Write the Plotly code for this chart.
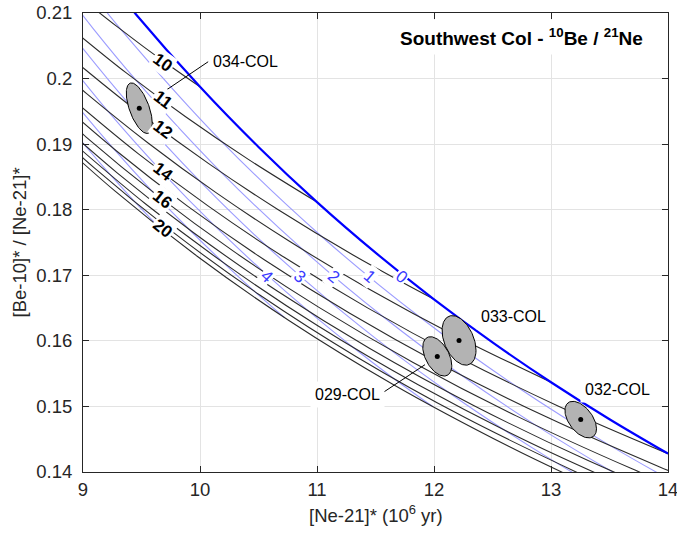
import numpy as np
import plotly.graph_objects as go

# ---------------- data ----------------
# thick blue line (zero-erosion / simple exposure curve)
blue0_x = [9.0, 9.45, 10.0, 10.5, 11.0, 11.5, 12.0, 12.5, 13.0, 13.5, 14.0]
blue0_y = [0.21986, 0.20986, 0.19875, 0.18957, 0.18116, 0.17345, 0.16634, 0.15977, 0.15369, 0.14805, 0.14280]

# black contours (exposure duration, Myr)
black_levels = [10, 11, 12, 13, 14, 15, 16, 17, 18, 19, 20]
black_x = [
    [10.0, 9.7542, 9.5163, 9.2861, 9.0635],
    [11.0, 10.4166, 9.8741, 9.3701, 8.8991],
    [12.0, 11.308, 10.6686, 10.0775, 9.5304, 9.0238, 8.7843],
    [13.0, 12.1901, 11.4474, 10.7645, 10.137, 9.5591, 9.026, 8.7758],
    [14.0, 13.0642, 12.2108, 11.4318, 10.7198, 10.0683, 9.4714, 8.9241],
    [14.4513, 13.9292, 12.9591, 12.0791, 11.2797, 10.5527, 9.8905, 9.2866, 8.7351],
    [14.2248, 13.6926, 12.7072, 11.8177, 11.0134, 10.2851, 9.6245, 9.0245, 8.4786],
    [14.4115, 13.3168, 12.3346, 11.4512, 10.6568, 9.9397, 9.2917, 8.7052],
    [13.9084, 12.8312, 11.8686, 11.0067, 10.2333, 9.5384, 8.9122],
    [13.3084, 12.2653, 11.336, 10.5075, 9.7661, 9.1016, 8.5043],
    [13.7668, 13.187, 12.642, 11.647, 10.763, 9.976, 9.2745, 8.6466],
]
black_y = [
    [0.19875, 0.20181, 0.20488, 0.20799, 0.21111],
    [0.18116, 0.18764, 0.19421, 0.20086, 0.20764],
    [0.16634, 0.17310, 0.17999, 0.18699, 0.19410, 0.20131, 0.20495],
    [0.15369, 0.16072, 0.16788, 0.17518, 0.18260, 0.19014, 0.19779, 0.20164],
    [0.14280, 0.15004, 0.15746, 0.16503, 0.17274, 0.18058, 0.18855, 0.19661],
    [0.13702, 0.14077, 0.14841, 0.15622, 0.16420, 0.17233, 0.18059, 0.18896, 0.19743],
    [0.13654, 0.14048, 0.14852, 0.15675, 0.16514, 0.17368, 0.18234, 0.19112, 0.19997],
    [0.13349, 0.14174, 0.15019, 0.15883, 0.16763, 0.17657, 0.18563, 0.19478],
    [0.13571, 0.14438, 0.15326, 0.16230, 0.17151, 0.18083, 0.19025],
    [0.13921, 0.14830, 0.15759, 0.16703, 0.17662, 0.18630, 0.19606],
    [0.13458, 0.13920, 0.14388, 0.15339, 0.16307, 0.17290, 0.18283, 0.19284],
]

# light blue contours (erosion rate levels 1..6)
lblue_levels = [1, 2, 3, 4, 5, 6]
lblue_x = [
    [8.894, 9.327, 10.1894, 11.0397, 11.8779, 12.705, 13.5199, 14.327],
    [8.7138, 9.087, 9.4567, 10.1812, 10.8823, 11.5681, 12.2316, 12.878, 13.5057, 14.1156],
    [8.478, 8.7958, 9.4104, 10.0005, 10.5648, 11.1064, 11.6257, 12.1229, 12.6002, 13.0577, 13.4955],
    [8.7193, 9.2131, 9.6803, 10.122, 10.539, 10.9334, 11.307, 11.6583, 11.9922],
    [8.5119, 8.8983, 9.2591, 9.5938, 9.9058, 10.1969, 10.4678, 10.7214],
    [8.4974, 8.7666, 9.0147, 9.2423, 9.4514, 9.6435],
]
lblue_y = [
    [0.21715, 0.20743, 0.19032, 0.17592, 0.16363, 0.15305, 0.14387, 0.13578],
    [0.21626, 0.20763, 0.19969, 0.18571, 0.17387, 0.16363, 0.15479, 0.14704, 0.14022, 0.13417],
    [0.21687, 0.20920, 0.19575, 0.18432, 0.17454, 0.16606, 0.15866, 0.15217, 0.14641, 0.14128, 0.13670],
    [0.20596, 0.19502, 0.18567, 0.17760, 0.17060, 0.16445, 0.15902, 0.15423, 0.14994],
    [0.20590, 0.19700, 0.18936, 0.18277, 0.17702, 0.17197, 0.16752, 0.16356],
    [0.20136, 0.19520, 0.18983, 0.18516, 0.18106, 0.17746],
]

# contour labels
black_lab_text = ["10", "11", "12", "14", "16", "20"]
black_lab_x = [9.68, 9.68, 9.68, 9.68, 9.68, 9.68]
black_lab_y = [0.2024, 0.19677, 0.19216, 0.18576, 0.18161, 0.17709]
black_lab_ang = [36, 37, 37, 37.5, 38, 38.5]

blue_lab_text = ["0", "1", "2", "3", "4"]
blue_lab_x = [11.72, 11.45, 11.14, 10.85, 10.57]
blue_lab_y = [0.1698, 0.1698, 0.1698, 0.1698, 0.1698]
blue_lab_ang = [39, 40, 40, 41, 43]

# samples (centre, half-extent of ellipse in x and y, correlation)
samples = ["034-COL", "033-COL", "029-COL", "032-COL"]
samp_x = [9.481, 12.214, 12.028, 13.254]
samp_y = [0.19548, 0.16007, 0.15763, 0.14799]
samp_hx = [0.111, 0.145, 0.124, 0.135]
samp_hy = [0.00386, 0.00378, 0.00300, 0.00279]
samp_rho = [-0.6, -0.4, -0.47, -0.5]

samp_lab_x = [10.07, 12.36, 10.94, 13.25]
samp_lab_y = [0.20258, 0.16373, 0.15179, 0.15256]

leader_034_x = [10.071, 9.629]
leader_034_y = [0.20258, 0.19725]
leader_029_x = [11.567, 11.923]
leader_029_y = [0.15215, 0.15637]

FONT = "Liberation Sans, Arial, Helvetica, sans-serif"
DARK = "#262626"

fig = go.Figure()

for xs, ys in zip(lblue_x, lblue_y):
    fig.add_trace(go.Scatter(x=xs, y=ys, mode="lines",
                             line=dict(color="#9c9cff", width=1.1, shape="spline", smoothing=1.0),
                             hoverinfo="skip"))
for xs, ys in zip(black_x, black_y):
    fig.add_trace(go.Scatter(x=xs, y=ys, mode="lines",
                             line=dict(color="#2b2b2b", width=1.1, shape="spline", smoothing=1.0),
                             hoverinfo="skip"))
fig.add_trace(go.Scatter(x=blue0_x, y=blue0_y, mode="lines",
                         line=dict(color="#0000ff", width=2.2, shape="spline", smoothing=1.0),
                         hoverinfo="skip"))

# leader lines
for lx, ly in [(leader_034_x, leader_034_y), (leader_029_x, leader_029_y)]:
    fig.add_trace(go.Scatter(x=lx, y=ly, mode="lines", line=dict(color="black", width=1),
                             hoverinfo="skip"))

# ellipses
t = np.linspace(0, 2 * np.pi, 120)
for cx, cy, hx, hy, r in zip(samp_x, samp_y, samp_hx, samp_hy, samp_rho):
    ex = cx + hx * np.cos(t)
    ey = cy + hy * (r * np.cos(t) + np.sqrt(1 - r * r) * np.sin(t))
    fig.add_trace(go.Scatter(x=ex, y=ey, mode="lines", fill="toself",
                             fillcolor="#b3b3b3", line=dict(color="black", width=1),
                             hoverinfo="skip"))
fig.add_trace(go.Scatter(x=samp_x, y=samp_y, mode="markers",
                         marker=dict(color="black", size=5), hoverinfo="skip"))

ann = []
for txt, x, y, a in zip(black_lab_text, black_lab_x, black_lab_y, black_lab_ang):
    ann.append(dict(x=x, y=y, xref="x", yref="y", text=txt, showarrow=False,
                    textangle=a, bgcolor="white", borderpad=1,
                    font=dict(family=FONT, size=17, color="black", weight="bold")))
for txt, x, y, a in zip(blue_lab_text, blue_lab_x, blue_lab_y, blue_lab_ang):
    ann.append(dict(x=x, y=y, xref="x", yref="y", text=txt, showarrow=False,
                    textangle=a, bgcolor="white", borderpad=1,
                    font=dict(family=FONT, size=17, color="#3a3aff")))
for txt, x, y in zip(samples, samp_lab_x, samp_lab_y):
    ann.append(dict(x=x, y=y, xref="x", yref="y", text=txt, showarrow=False,
                    xanchor="left", yanchor="middle", bgcolor="white", borderpad=4,
                    font=dict(family=FONT, size=16, color="black")))
# title
ann.append(dict(x=13.84, y=0.2064, xref="x", yref="y",
                text="Southwest Col - <sup>10</sup>Be / <sup>21</sup>Ne",
                showarrow=False, xanchor="right", yanchor="middle", bgcolor="white", borderpad=5,
                font=dict(family=FONT, size=19, color="black", weight="bold")))
# axis titles
ann.append(dict(x=0.5, y=-0.092, xref="paper", yref="paper",
                text="[Ne-21]* (10<sup>6</sup> yr)", showarrow=False,
                xanchor="center", yanchor="middle",
                font=dict(family=FONT, size=18.5, color=DARK)))
ann.append(dict(x=-0.1077, y=0.5, xref="paper", yref="paper",
                text="[Be-10]* / [Ne-21]*", showarrow=False, textangle=-90,
                xanchor="center", yanchor="middle",
                font=dict(family=FONT, size=18.5, color=DARK)))

xt = [9, 10, 11, 12, 13, 14]
yt = [0.14, 0.15, 0.16, 0.17, 0.18, 0.19, 0.20, 0.21]
yt_text = ["0.14", "0.15", "0.16", "0.17", "0.18", "0.19", "0.2", "0.21"]

fig.update_layout(
    width=677, height=538,
    margin=dict(l=83, r=9, t=13, b=66, autoexpand=False),
    paper_bgcolor="white", plot_bgcolor="white",
    showlegend=False,
    annotations=ann,
    xaxis=dict(range=[9, 14], tickvals=xt, ticktext=[str(v) for v in xt],
               ticks="inside", ticklen=6, tickcolor=DARK, mirror="allticks",
               showline=True, linecolor=DARK, linewidth=1, automargin=False,
               showgrid=True, gridcolor="#e3e3e3", zeroline=False,
               ticklabeloverflow="allow", ticklabelstandoff=1,
               tickfont=dict(family=FONT, size=18.5, color=DARK)),
    yaxis=dict(range=[0.14, 0.21], tickvals=yt, ticktext=yt_text,
               ticks="inside", ticklen=6, tickcolor=DARK, mirror="allticks",
               showline=True, linecolor=DARK, linewidth=1, automargin=False,
               showgrid=True, gridcolor="#e3e3e3", zeroline=False,
               ticklabeloverflow="allow", ticklabelstandoff=6,
               tickfont=dict(family=FONT, size=18.5, color=DARK)),
)

fig.write_html("out.html")
